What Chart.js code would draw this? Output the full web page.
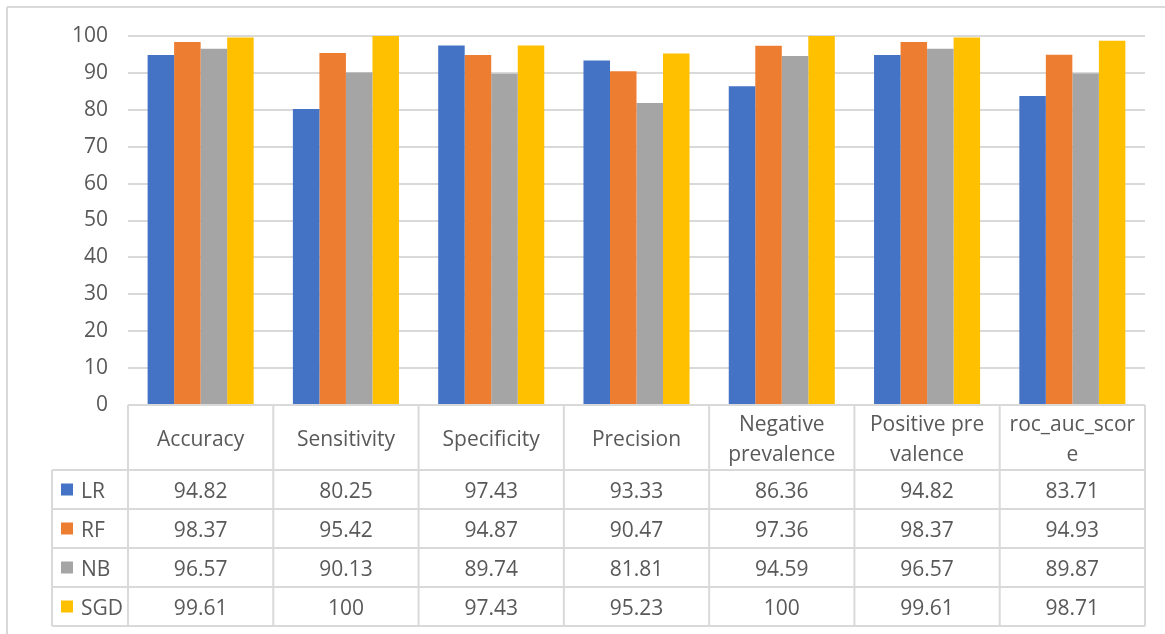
<!DOCTYPE html>
<html>
<head>
<meta charset="utf-8">
<script src="https://cdn.jsdelivr.net/npm/chart.js@4/dist/chart.umd.min.js"></script>
<style>
  html, body { margin: 0; padding: 0; background: #ffffff; }
  #wrap { position: relative; width: 1165px; height: 634px; }
</style>
</head>
<body>
<div id="wrap"><canvas id="chart" width="1165" height="634"></canvas></div>
<script>
// Metric names; each entry is one or two lines of the header cell
const categories = [
  ['Accuracy'],
  ['Sensitivity'],
  ['Specificity'],
  ['Precision'],
  ['Negative', 'prevalence'],
  ['Positive pre', 'valence'],
  ['roc_auc_scor', 'e']
];

const modelNames = ['LR', 'RF', 'NB', 'SGD'];

const lrValues  = [94.82, 80.25, 97.43, 93.33, 86.36, 94.82, 83.71];
const rfValues  = [98.37, 95.42, 94.87, 90.47, 97.36, 98.37, 94.93];
const nbValues  = [96.57, 90.13, 89.74, 81.81, 94.59, 96.57, 89.87];
const sgdValues = [99.61, 100, 97.43, 95.23, 100, 99.61, 98.71];

const yTicks = [0, 10, 20, 30, 40, 50, 60, 70, 80, 90, 100];

const seriesColors = ['#4472C4', '#ED7D31', '#A5A5A5', '#FFC000'];
const seriesValues = [lrValues, rfValues, nbValues, sgdValues];

const FONT = '"Open Sans", "Noto Sans", sans-serif';
const TEXT_COLOR = '#595959';
const LINE_COLOR = '#d9d9d9';

// Data table under the plot: metric headers, one row per model with a colour key
const dataTablePlugin = {
  id: 'dataTable',
  afterDraw(chart) {
    const ctx = chart.ctx;
    const area = chart.chartArea;
    const x = chart.scales.x;
    const n = chart.data.labels.length;
    const colW = (area.right - area.left) / n;
    const top = area.bottom;
    const headerBottom = top + 65;
    const rowH = 39;
    const rows = chart.data.datasets.length;
    const tableBottom = headerBottom + rowH * rows;
    const keyLeft = 52;
    const textShift = 3;

    ctx.save();
    ctx.strokeStyle = LINE_COLOR;
    ctx.lineWidth = 2;

    // outer frame (top and left edges)
    ctx.beginPath();
    ctx.moveTo(7, 7); ctx.lineTo(chart.width, 7);
    ctx.moveTo(7, 7); ctx.lineTo(7, chart.height);
    ctx.stroke();

    // horizontal rules
    ctx.beginPath();
    ctx.moveTo(area.left, top); ctx.lineTo(area.right, top);
    for (let r = 0; r <= rows; r++) {
      const y = headerBottom + r * rowH;
      ctx.moveTo(keyLeft, y); ctx.lineTo(area.right, y);
    }
    // vertical rules
    for (let i = 0; i <= n; i++) {
      const xx = area.left + i * colW;
      ctx.moveTo(xx, top); ctx.lineTo(xx, tableBottom);
    }
    ctx.moveTo(keyLeft, headerBottom); ctx.lineTo(keyLeft, tableBottom);
    ctx.stroke();

    ctx.fillStyle = TEXT_COLOR;
    ctx.font = '21px ' + FONT;
    ctx.textAlign = 'center';
    ctx.textBaseline = 'middle';

    // header cells
    chart.data.labels.forEach((lines, i) => {
      const cx = x.getPixelForValue(i);
      const midY = (top + headerBottom) / 2 + textShift;
      const lh = 30;
      lines.forEach((line, k) => {
        const y = midY + (k - (lines.length - 1) / 2) * lh;
        ctx.fillText(line, cx, y);
      });
    });

    // value rows with colour keys
    chart.data.datasets.forEach((ds, r) => {
      const cy = headerBottom + r * rowH + rowH / 2;
      ctx.fillStyle = ds.backgroundColor;
      ctx.fillRect(61, cy - 6, 12, 12);
      ctx.fillStyle = TEXT_COLOR;
      ctx.textAlign = 'left';
      ctx.fillText(ds.label, 81, cy + textShift);
      ctx.textAlign = 'center';
      ds.data.forEach((v, i) => {
        ctx.fillText(String(v), x.getPixelForValue(i), cy + textShift);
      });
    });
    ctx.restore();
  }
};

new Chart(document.getElementById('chart'), {
  type: 'bar',
  data: {
    labels: categories,
    datasets: modelNames.map((name, i) => ({
      label: name,
      data: seriesValues[i],
      backgroundColor: seriesColors[i],
      borderWidth: 0,
      barPercentage: 1.0,
      categoryPercentage: 0.73
    }))
  },
  options: {
    responsive: false,
    animation: false,
    devicePixelRatio: 1,
    layout: { padding: { left: 0, right: 20, top: 36, bottom: 229 } },
    plugins: {
      legend: { display: false },
      tooltip: { enabled: false }
    },
    scales: {
      x: {
        display: false,
        grid: { display: false }
      },
      y: {
        min: 0,
        max: 100,
        afterBuildTicks(scale) {
          scale.ticks = yTicks.map(v => ({ value: v }));
        },
        afterFit(scale) { scale.width = 128; },
        border: { display: false },
        grid: { color: LINE_COLOR, lineWidth: 2, drawTicks: false },
        ticks: {
          padding: 20,
          color: TEXT_COLOR,
          font: { family: FONT, size: 21 }
        }
      }
    }
  },
  plugins: [dataTablePlugin]
});
</script>
</body>
</html>
